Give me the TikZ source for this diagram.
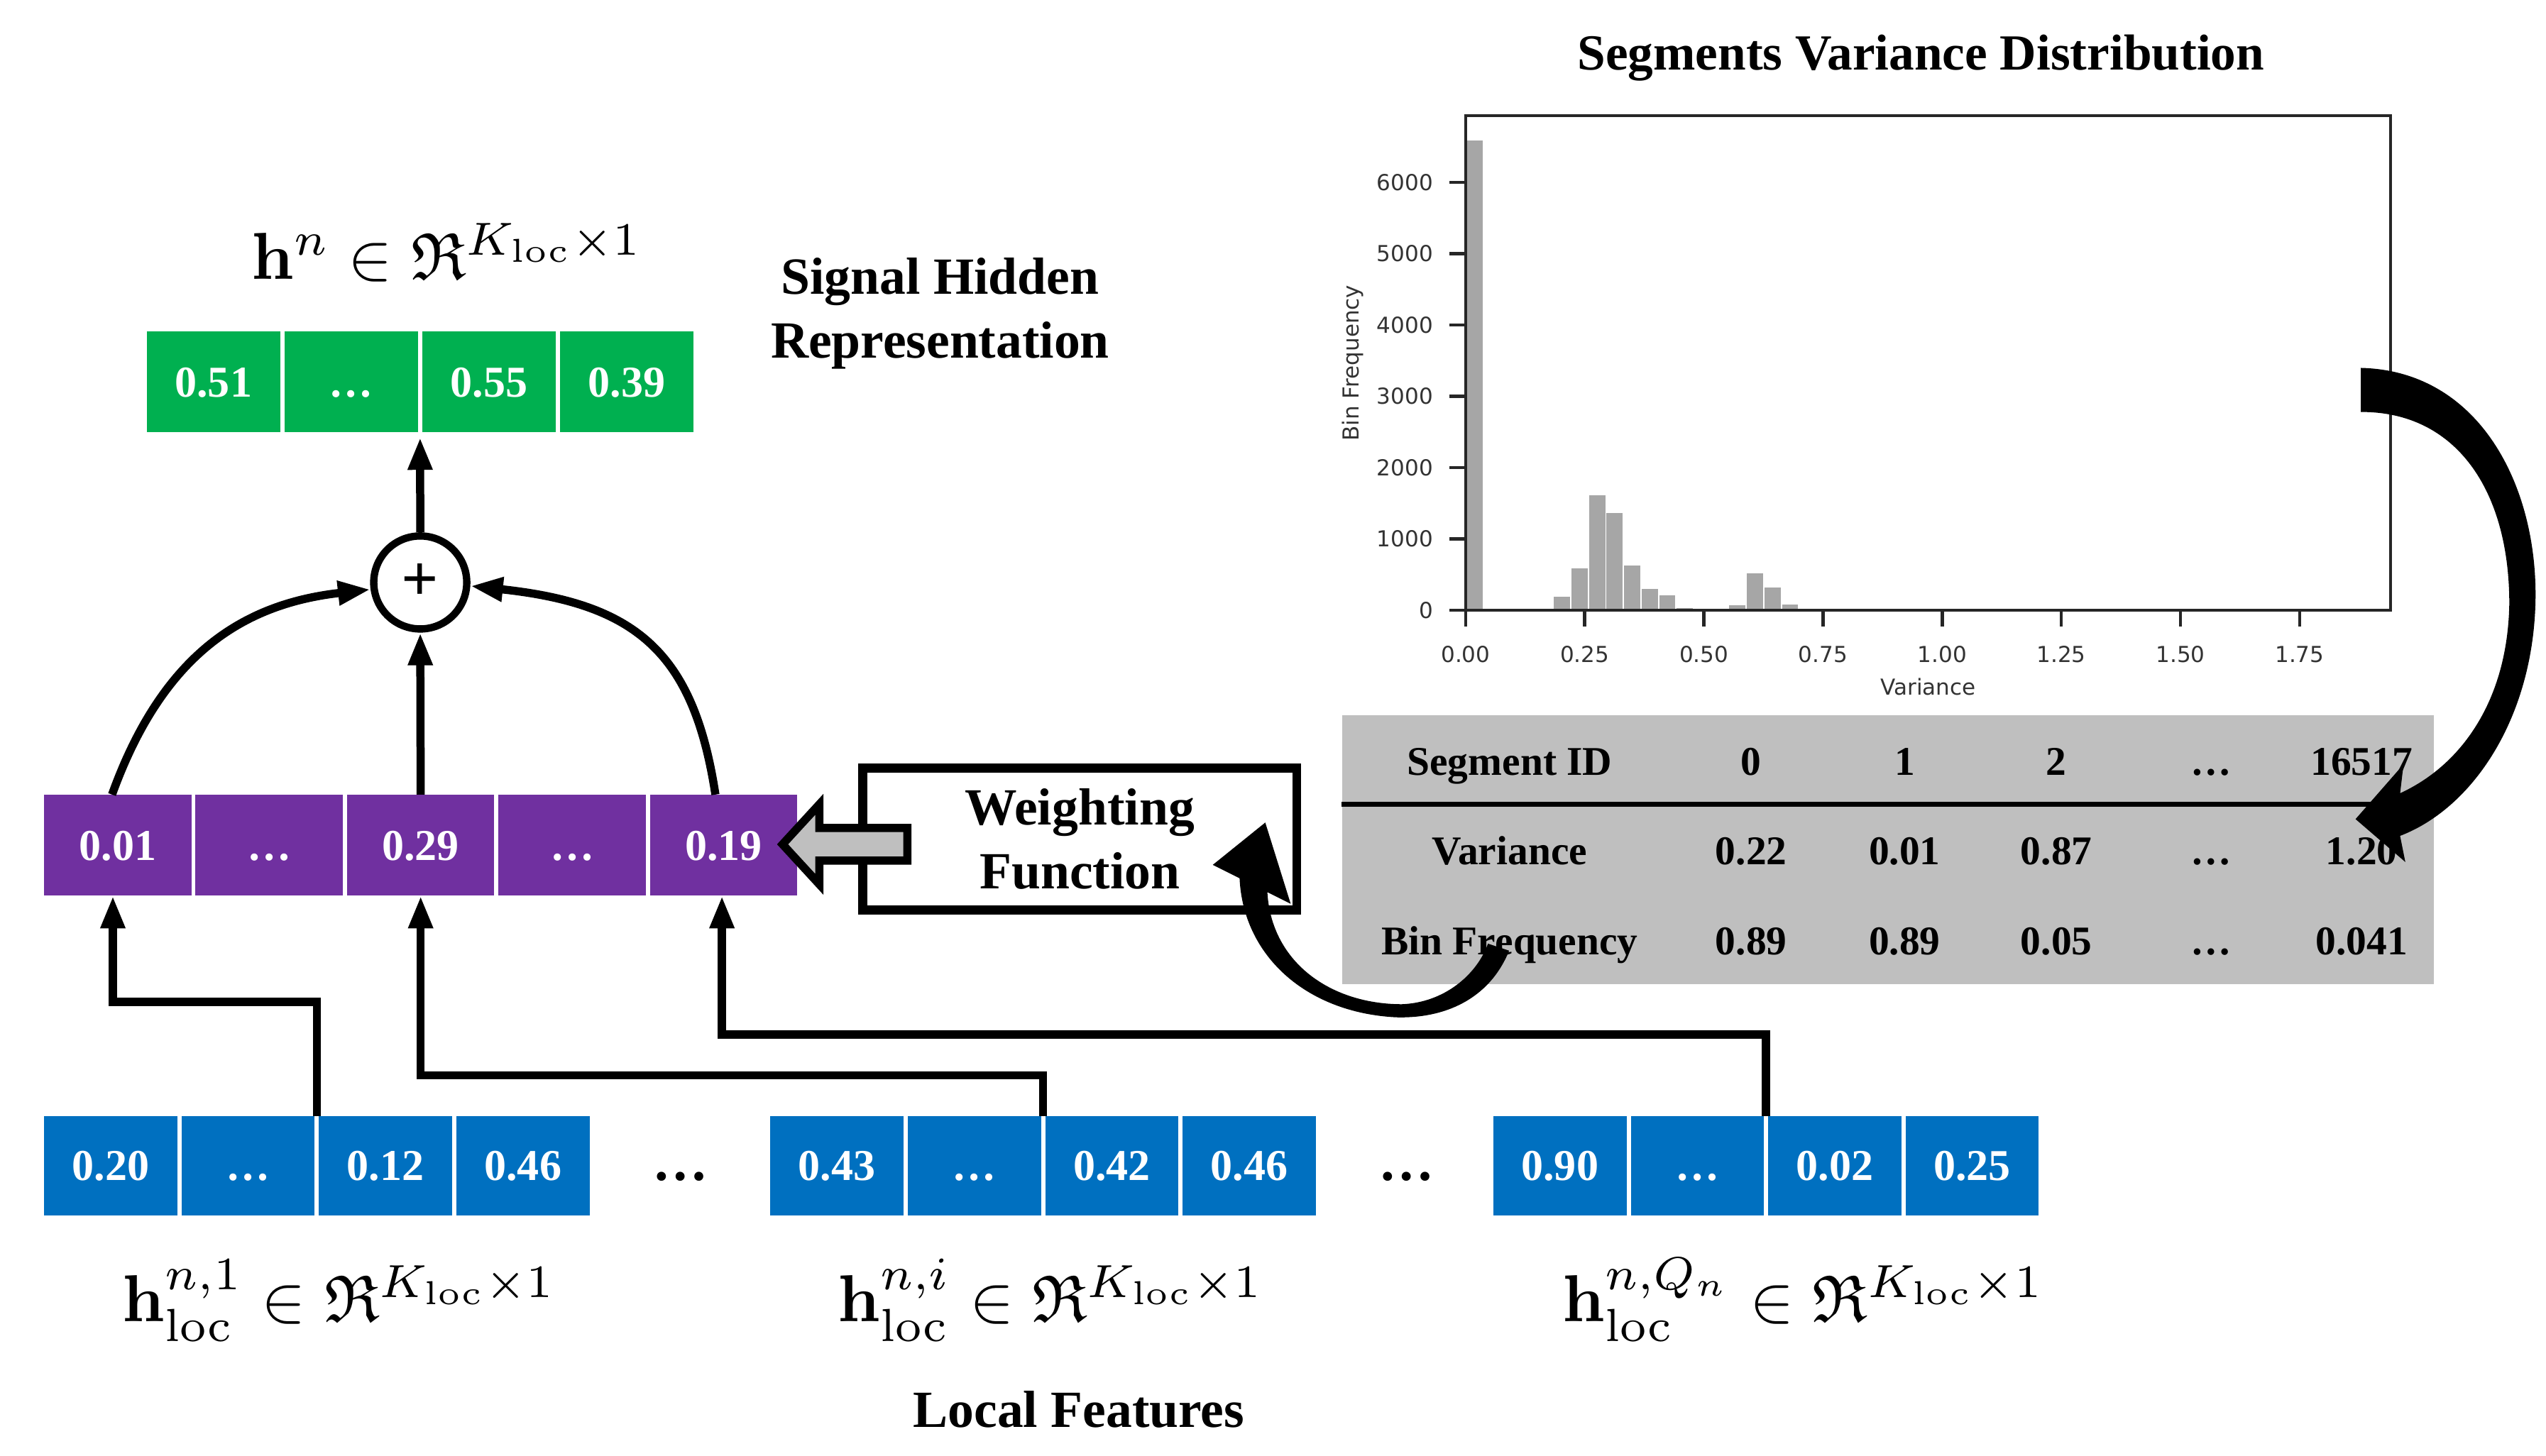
\documentclass[tikz,border=0pt]{standalone}
\usepackage{amsmath,amssymb}
\usepackage[no-math]{fontspec}
\setmainfont{Liberation Serif}
\newfontfamily\dvs{DejaVu Sans}
\usetikzlibrary{arrows.meta,calc}
\definecolor{cgreen}{HTML}{00B050}
\definecolor{cpurple}{HTML}{7030A0}
\definecolor{cblue}{HTML}{0070C0}
\definecolor{tgray}{HTML}{BFBFBF}
\definecolor{barg}{HTML}{A6A6A6}
\definecolor{axc}{HTML}{262626}
\definecolor{labc}{HTML}{333333}
\begin{document}
\begin{tikzpicture}[x=1pt, y=-1pt,
  cellbox/.style={anchor=north west, minimum width=81.6pt, minimum height=62pt, inner sep=0pt, outer sep=0pt, text=white, font=\fontsize{27}{30}\selectfont\bfseries, text height=18.3pt, text depth=0pt},
  gcell/.style={cellbox, fill=cgreen},
  pcell/.style={cellbox, fill=cpurple, minimum width=90.3pt},
  bcell/.style={cellbox, fill=cblue, minimum height=61pt},
  conn/.style={line width=5pt, -{Triangle[length=20pt,width=14pt]}},
  lbl/.style={font=\fontsize{32}{39}\selectfont\bfseries},
  tlbl/.style={anchor=base, font=\fontsize{25}{30}\selectfont\bfseries},
  mathlbl/.style={anchor=base, scale=4.07, font=\fontsize{10}{12}\selectfont},
  ticklbl/.style={font=\dvs\fontsize{13.5}{16}\selectfont, text=labc, inner sep=0pt},
  bigdots/.style={font=\fontsize{34}{34}\selectfont\bfseries, text height=18.3pt, text depth=0pt, inner sep=0pt}
]
\useasboundingbox (0,0) rectangle (1560,892);

% ---------- histogram ----------
\begin{scope}[shift={(898,374)}, x=292pt, y=0.0437pt]
  \foreach \h [count=\i from 0] in {6600,15,20,5,15,200,600,1620,1370,640,310,220,40,10,20,75,530,330,90}
    \filldraw[fill=barg, draw=white, line width=0.8pt] ({\i*0.0368},0) rectangle ({(\i+1)*0.0368},\h);
  \draw[axc, line width=2pt] (0,0) rectangle (1.941,6935);
  \foreach \v in {0,1000,2000,3000,4000,5000,6000}
    \draw[axc, line width=2pt] (0,\v) -- ++(-10pt,0) node[ticklbl, anchor=east, xshift=-9pt] {\v};
  \foreach \v/\l in {0/0.00,0.25/0.25,0.5/0.50,0.75/0.75,1/1.00,1.25/1.25,1.5/1.50,1.75/1.75}
    \draw[axc, line width=2pt] (\v,0) -- ++(0,-10pt) node[ticklbl, anchor=north, yshift=-11pt] {\l};
\end{scope}
\node[ticklbl] (xlab) at (1181.5,421) {Variance};
\node[ticklbl, rotate=90] (ylab) at (829,222.5) {Bin Frequency};
\node[anchor=base, font=\fontsize{31}{36}\selectfont\bfseries] (title) at (1177,43) {Segments Variance Distribution};

% ---------- table ----------
\node[fill=tgray, anchor=north west, minimum width=669pt, minimum height=165pt, inner sep=0pt] (table) at (822,438) {};
\draw[line width=3pt] (822,493) -- (1465,493);
\node[tlbl] (r1) at (925,475) {Segment ID};
\node[tlbl] (r2) at (925,530) {Variance};
\node[tlbl] (r3) at (925,585) {Bin Frequency};
\foreach \x/\a/\b/\c in {1073/0/0.22/0.89, 1167/1/0.01/0.89, 1260/2/0.87/0.05, 1355/…/…/…, 1447/16517/1.20/0.041}{
  \node[tlbl] at (\x,475) {\a};
  \node[tlbl] at (\x,530) {\b};
  \node[tlbl] at (\x,585) {\c};
}

% ---------- cells ----------
\node[gcell] (g1) at (90,203) {0.51};
\node[gcell] (g2) at (174.4,203) {…};
\node[gcell] (g3) at (258.8,203) {0.55};
\node[gcell] (g4) at (343.2,203) {0.39};

\node[pcell] (p1) at (27,487) {0.01};
\node[pcell] (p2) at (119.8,487) {…};
\node[pcell] (p3) at (212.6,487) {0.29};
\node[pcell] (p4) at (305.4,487) {…};
\node[pcell] (p5) at (398.2,487) {0.19};

\node[bcell] (b11) at (27,684) {0.20};
\node[bcell] (b12) at (111.2,684) {…};
\node[bcell] (b13) at (195.4,684) {0.12};
\node[bcell] (b14) at (279.6,684) {0.46};
\node[bcell] (b21) at (472,684) {0.43};
\node[bcell] (b22) at (556.2,684) {…};
\node[bcell] (b23) at (640.4,684) {0.42};
\node[bcell] (b24) at (724.6,684) {0.46};
\node[bcell] (b31) at (915,684) {0.90};
\node[bcell] (b32) at (999.2,684) {…};
\node[bcell] (b33) at (1083.4,684) {0.02};
\node[bcell] (b34) at (1167.6,684) {0.25};

\node[bigdots] (d1) at (417,714.5) {…};
\node[bigdots] (d2) at (862,714.5) {…};

% ---------- sum node ----------
\node[circle, draw, line width=4.5pt, minimum size=57pt, inner sep=0pt, font=\fontsize{40}{40}\selectfont\bfseries] (plus) at (257.5,357) {+};

\draw[conn] (plus.north) -- ($(g2.south east)!.5!(g3.south west)+(0,3)$);
\draw[conn] (p3.north) -- (plus.south);
\draw[conn] ([xshift=-3.5pt]p1.north) .. controls (100,400) and (150,370) .. (plus.188);
\draw[conn] ([xshift=-5pt]p5.north) .. controls (425,400) and (390,370) .. (plus.-4);

\draw[conn] ($(b12.north east)!.5!(b13.north west)$) -- ++(0,-70) -| ([xshift=-3pt]p1.south);
\draw[conn] ($(b22.north east)!.5!(b23.north west)$) -- ++(0,-25) -| (p3.south);
\draw[conn] ($(b32.north east)!.5!(b33.north west)$) -- ++(0,-50) -| ([xshift=-1pt]p5.south);

% ---------- weighting function ----------
\node[draw, line width=5.5pt, minimum width=266pt, minimum height=87pt, inner sep=0pt, align=center, lbl] (wf) at (661.6,514.2) {Weighting\\Function};
\draw[fill=tgray, line width=5pt, line join=miter] (556,507.5) -- (502,507.5) -- (502,493) -- (479.5,517.5) -- (502,542) -- (502,527.5) -- (556,527.5) -- cycle;

% ---------- big curved arrows ----------
\filldraw[black, line width=1pt] (1447,226) .. controls (1520,228) and (1555,300) .. (1553,370) .. controls (1551,440) and (1515,495) .. (1470,512) -- (1473,527) -- (1444,502) -- (1472,470) -- (1470,487) .. controls (1508,470) and (1537,430) .. (1538,370) .. controls (1538,300) and (1505,252) .. (1447,252) -- cycle;
\filldraw[black, line width=1pt] (924,583) .. controls (912,612) and (885,624) .. (855,623) .. controls (800,620) and (762,585) .. (760,538) -- (744,530) -- (775,505) -- (790,553) -- (776,546) .. controls (778,590) and (815,616) .. (859,616) .. controls (885,615) and (905,598) .. (912,579) -- cycle;

% ---------- labels ----------
\node[lbl, align=center] (shr) at (576,192) {Signal Hidden\\Representation};
\node[anchor=base, lbl] (lf) at (661,875) {Local Features};
\node[mathlbl] (mh) at (274,171) {$\mathbf{h}^{n} \in \mathfrak{R}^{K_{\mathrm{loc}}\times 1}$};
\node[mathlbl] (m1) at (208,810) {$\mathbf{h}_{\mathrm{loc}}^{n,1} \in \mathfrak{R}^{K_{\mathrm{loc}}\times 1}$};
\node[mathlbl] (m2) at (644,810) {$\mathbf{h}_{\mathrm{loc}}^{n,i} \in \mathfrak{R}^{K_{\mathrm{loc}}\times 1}$};
\node[mathlbl] (m3) at (1105,810) {$\mathbf{h}_{\mathrm{loc}}^{n,Q_n} \in \mathfrak{R}^{K_{\mathrm{loc}}\times 1}$};
\end{tikzpicture}
\end{document}
